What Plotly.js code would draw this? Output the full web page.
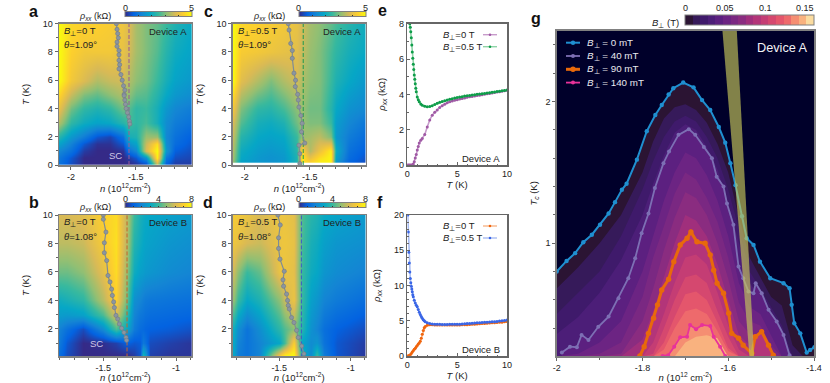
<!DOCTYPE html>
<html>
<head>
<meta charset="utf-8">
<script src="https://cdn.plot.ly/plotly-3.0.1.min.js"></script>
<style>html,body{margin:0;padding:0;background:#fff}#chart{width:830px;height:383px}</style>
</head>
<body>
<div id="chart"></div>
<script>
// map a (device A, 0 T)
const nA = [-2.09,-2,-1.9,-1.8,-1.7,-1.6,-1.55,-1.5,-1.42,-1.34,-1.27,-1.2,-1.07];
const tA = [0,0.5,1,1.5,2,3,4,5,6,8,10];
const zA = [
  [0.9,0.4,0,0,0,0,0,0.1,0.3,3.4,0.6,0.2,0.2],
  [1.0,0.5,0,0,0,0,0.2,0.5,1.5,4.8,1.0,0.4,0.3],
  [1.3,0.9,0.2,0,0,0.1,0.9,1.3,3.8,5.0,1.6,0.6,0.4],
  [1.8,1.2,0.5,0.1,0.1,0.5,1.5,1.8,3.6,4.6,1.4,0.8,0.5],
  [2.3,1.6,1.1,0.5,0.3,0.9,2.1,2.2,3.2,3.2,1.3,0.9,0.6],
  [3.4,2.4,2.0,1.8,1.9,2.3,2.6,2.4,2.6,2.1,1.4,1.1,0.9],
  [4.0,2.9,2.4,2.2,2.4,2.9,2.7,2.4,2.5,2.1,1.6,1.3,1.1],
  [4.5,3.6,3.0,2.8,3.1,3.4,3.1,2.8,2.7,2.3,1.9,1.6,1.4],
  [5,4.2,3.8,3.4,3.6,3.7,3.4,3.1,2.9,2.5,2.1,1.8,1.6],
  [5,4.4,4.2,4.2,4.2,4.0,3.7,3.3,3.0,2.7,2.3,2.0,1.8],
  [5,4.5,4.4,4.4,4.3,4.1,3.8,3.3,3.0,2.8,2.5,2.2,1.9]
];
// map b (device B, 0 T)
const nB = [-1.81,-1.75,-1.64,-1.5,-1.41,-1.34,-1.29,-1.25,-1.23,-1.21,-1.18,-1.05,-0.89];
const tB = [0.1,1,2,3,4,6,8,10];
const zB = [
  [1.4,0.6,0,0,0,0,0.3,0.8,3.6,3.0,0.4,0.2,0.2],
  [1.8,0.8,0,0.1,0.4,1.0,0.8,0.9,1.6,1.4,0.6,0.4,0.2],
  [2.0,1.4,0.6,2.2,4.2,3.0,1.7,1.3,1.2,1.1,1.0,0.9,0.7],
  [2.7,2.6,2.8,4.2,6.0,3.8,2.0,1.6,1.5,1.4,1.3,1.2,1.1],
  [3.2,3.4,3.8,5.5,7.0,4.5,2.3,2.0,1.8,1.7,1.6,1.5,1.4],
  [4.6,4.6,5.0,6.3,7.3,5.0,3.2,2.8,2.7,2.6,2.5,2.2,2.0],
  [5.6,5.6,5.8,6.8,7.4,5.4,3.6,3.2,3.0,2.9,2.8,2.5,2.3],
  [6.0,6.0,6.2,7.0,7.3,5.5,4.0,3.4,3.2,3.1,3.0,2.8,2.6]
];
// map c (device A, 0.5 T)
const nC = [-2.09,-2.03,-1.9,-1.8,-1.7,-1.6,-1.56,-1.5,-1.42,-1.34,-1.3,-1.2,-1.07];
const tC = [0.2,0.25,0.5,1,2,3,4,6,8,10];
const zC = [
  [3.2,1.8,1.6,1.5,1.6,2.2,4.6,4.4,4.8,4.9,1.6,0.7,0.4],
  [3.2,1.8,1.6,1.5,1.6,2.2,4.6,4.4,4.8,4.9,1.6,0.7,0.4],
  [3.3,1.9,1.6,1.5,1.6,2.2,4.8,4.0,4.6,4.9,1.8,0.8,0.45],
  [3.4,2.0,1.7,1.6,1.7,2.3,4.5,3.4,4.1,4.8,2.0,0.9,0.6],
  [3.6,2.3,1.9,1.8,1.9,2.5,3.2,3.3,3.5,3.0,1.6,1.1,0.8],
  [3.8,2.7,2.1,2.0,2.2,2.9,3.2,3.0,3.0,2.5,1.7,1.3,1.0],
  [4.2,3.0,2.4,2.3,2.6,3.1,3.2,2.9,2.9,2.3,1.9,1.5,1.3],
  [5,3.9,3.4,3.0,3.4,3.7,3.4,3.1,3,2.5,2.2,1.9,1.6],
  [5,4.3,4.2,4.1,4,3.9,3.6,3.2,3,2.6,2.4,2.1,1.9],
  [5,4.5,4.4,4.3,4.2,4.0,3.7,3.3,3.1,2.8,2.6,2.3,2]
];
// map d (device B, 0.5 T)
const nD = [-1.82,-1.79,-1.73,-1.635,-1.5,-1.46,-1.4,-1.34,-1.28,-1.24,-1.19,-1.1,-0.89];
const tD = [0.1,1,2,4,6,8,10];
const zD = [
  [3.0,1.8,1.5,2.0,7.0,7.9,8,3.5,2.2,4.0,1.8,0.8,0.2],
  [3.0,2.0,1.5,2.0,3.0,4.2,7.0,3.0,2.2,2.5,1.5,0.8,0.3],
  [3.2,2.3,1.5,2.3,3.8,4.3,5.0,3.7,2.4,2.0,1.4,1.0,0.6],
  [5.0,4.0,3.0,3.5,5.0,5.8,6.5,4.0,2.8,2.5,2.0,1.7,1.3],
  [5.8,5.0,4.0,4.5,6.5,6.5,6.3,4.0,3.2,3.0,2.5,2.2,1.9],
  [6.6,6.4,6.0,5.8,6.5,6.6,6.4,4.2,3.4,3.2,2.8,2.5,2.3],
  [6.8,6.7,6.5,6.0,6.5,6.5,6.3,4.3,3.7,3.5,3.1,2.9,2.6]
];
// grey peak positions on the maps
const peakNA = [-1.65,-1.645,-1.64,-1.635,-1.645,-1.645,-1.63,-1.63,-1.63,-1.625,-1.63,-1.615,-1.605,-1.595,-1.585,-1.59,-1.59,-1.585,-1.58,-1.575,-1.565,-1.555,-1.55,-1.546];
const peakTA = [10,9.6,9.3,9,8.7,8.4,8.1,7.8,7.4,7.1,6.8,6.4,6,5.6,5.3,5,4.9,4.6,4.3,4,3.7,3.4,3.1,2.9];
const peakNB = [-1.5,-1.5,-1.482,-1.493,-1.493,-1.477,-1.468,-1.454,-1.443,-1.438,-1.429,-1.424,-1.413,-1.401,-1.39,-1.374,-1.358,-1.344,-1.34];
const peakTB = [10,9.7,8.8,8.05,7.35,6.8,5.75,5.3,4.8,4.35,3.9,3.5,2.95,2.7,2.35,2.05,1.75,1.4,1.2];
const peakNC = [-1.665,-1.659,-1.646,-1.634,-1.634,-1.621,-1.609,-1.611,-1.593,-1.588,-1.583,-1.568,-1.558,-1.563,-1.538,-1.583,-1.576,-1.576];
const peakTC = [10,9.55,8.6,8.1,7.55,6.5,6,5.55,5,4.6,4.1,3.5,2.95,2.35,1.55,1.4,0.8,0.1];
const peakND = [-1.51,-1.493,-1.505,-1.505,-1.495,-1.465,-1.474,-1.47,-1.449,-1.442,-1.437,-1.43,-1.414,-1.397,-1.379,-1.367,-1.343,-1.327];
const peakTD = [10,9.3,8.4,7.65,6.9,6.05,5.45,5,4.45,4,3.65,3.4,2.8,2.45,1.9,1.4,0.8,0.25];
// dashed optimal density
const dashNA = [-1.553,-1.553];
const dashNB = [-1.337,-1.337];
const dashNC = [-1.55,-1.55];
const dashND = [-1.345,-1.345];
const dashT = [0,10];
// cuts e
const cutTE0 = [0,0.1,0.2,0.3,0.4,0.5,0.6,0.7,0.8,0.9,1,1.1,1.2,1.35,1.5,1.75,2,2.25,2.5,2.75,3,3.25,3.5,3.75,4,4.25,4.5,4.75,5,5.25,5.5,5.75,6,6.25,6.5,6.75,7,7.25,7.5,7.75,8,8.25,8.5,8.75,9,9.25,9.5,9.75,10];
const rhoE0 = [0,0,0,0,0,0,0.05,0.18,0.4,0.6,0.85,1.05,1.25,1.4,1.5,1.72,2.15,2.55,2.82,2.98,3.12,3.26,3.36,3.44,3.52,3.58,3.63,3.67,3.7,3.74,3.77,3.8,3.83,3.86,3.88,3.9,3.93,3.95,3.98,4,4.03,4.05,4.08,4.1,4.13,4.15,4.18,4.2,4.23];
const cutTE5 = [0.25,0.3,0.35,0.4,0.45,0.5,0.55,0.6,0.65,0.7,0.75,0.8,0.85,0.9,1,1.1,1.2,1.35,1.5,1.75,2,2.25,2.5,2.75,3,3.25,3.5,3.75,4,4.25,4.5,4.75,5,5.25,5.5,5.75,6,6.25,6.5,6.75,7,7.25,7.5,7.75,8,8.25,8.5,8.75,9,9.25,9.5,9.75,10];
const rhoE5 = [8,7.8,7.55,7.2,6.8,6.4,6.05,5.7,5.4,5.1,4.85,4.6,4.35,4.15,3.85,3.7,3.58,3.45,3.38,3.32,3.3,3.31,3.36,3.42,3.5,3.55,3.6,3.64,3.68,3.72,3.75,3.79,3.82,3.85,3.87,3.9,3.92,3.94,3.96,3.98,4,4.02,4.04,4.05,4.07,4.09,4.12,4.14,4.16,4.18,4.2,4.22,4.25];
// cuts f
const cutTF0 = [0,0.1,0.2,0.3,0.4,0.5,0.6,0.7,0.8,0.9,1,1.1,1.2,1.3,1.4,1.5,1.6,1.7,1.8,2,2.25,2.5,2.75,3,3.25,3.5,3.75,4,4.25,4.5,4.75,5,5.25,5.5,5.75,6,6.25,6.5,6.75,7,7.25,7.5,7.75,8,8.25,8.5,8.75,9,9.25,9.5,9.75,10];
const rhoF0 = [0,0.02,0.08,0.18,0.35,0.55,0.75,0.95,1.1,1.3,1.5,1.7,1.85,2.1,2.5,3.1,3.6,4,4.2,4.35,4.42,4.42,4.4,4.4,4.4,4.38,4.38,4.38,4.38,4.38,4.39,4.4,4.41,4.42,4.44,4.45,4.47,4.5,4.52,4.55,4.57,4.6,4.62,4.65,4.67,4.7,4.72,4.75,4.77,4.8,4.85,4.9];
const cutTF5 = [0.05,0.1,0.15,0.2,0.25,0.3,0.35,0.4,0.45,0.5,0.55,0.6,0.7,0.8,0.9,1,1.1,1.2,1.3,1.4,1.5,1.6,1.7,1.8,2,2.25,2.5,2.75,3,3.25,3.5,3.75,4,4.25,4.5,4.75,5,5.25,5.5,5.75,6,6.25,6.5,6.75,7,7.25,7.5,7.75,8,8.25,8.5,8.75,9,9.25,9.5,9.75,10];
const rhoF5 = [20,17.6,14.7,13.2,11.9,11,10.4,9.9,9.5,9.1,8.7,8.4,7.9,7.5,7.2,7,6.6,6.2,5.9,5.6,5.35,5.15,5,4.85,4.7,4.6,4.55,4.5,4.5,4.49,4.48,4.48,4.48,4.49,4.5,4.5,4.5,4.52,4.55,4.57,4.6,4.62,4.65,4.67,4.7,4.72,4.75,4.77,4.8,4.82,4.85,4.87,4.9,4.95,5,5.05,5.1];
// Tc lines in g
const nG0 = [-2,-1.977,-1.957,-1.938,-1.918,-1.899,-1.879,-1.864,-1.848,-1.837,-1.813,-1.79,-1.77,-1.755,-1.739,-1.728,-1.705,-1.681,-1.661,-1.642,-1.622,-1.607,-1.595,-1.583,-1.568,-1.557,-1.541,-1.526,-1.502,-1.471,-1.457,-1.452,-1.446,-1.432,-1.417,-1.409,-1.399];
const tcG0 = [0.8,0.875,0.93,1.007,1.06,1.13,1.21,1.29,1.377,1.42,1.59,1.79,1.905,1.976,2.05,2.094,2.134,2.1,2.01,1.94,1.82,1.71,1.565,1.41,1.19,1.035,0.988,0.87,0.753,0.718,0.682,0.565,0.435,0.364,0.228,0.247,0.266];
const nG40 = [-1.988,-1.969,-1.953,-1.942,-1.926,-1.903,-1.879,-1.856,-1.833,-1.817,-1.802,-1.786,-1.771,-1.751,-1.738,-1.716,-1.692,-1.677,-1.657,-1.638,-1.627,-1.611,-1.603,-1.588,-1.576,-1.565,-1.553,-1.541,-1.536,-1.522,-1.506,-1.487,-1.471,-1.457];
const tcG40 = [0.228,0.27,0.266,0.353,0.317,0.41,0.482,0.612,0.753,0.894,1.07,1.21,1.39,1.565,1.647,1.765,1.805,1.765,1.68,1.6,1.47,1.4,1.28,1.13,0.835,0.753,0.66,0.647,0.718,0.647,0.53,0.447,0.353,0.21];
const nG90 = [-1.806,-1.796,-1.786,-1.774,-1.765,-1.755,-1.739,-1.727,-1.712,-1.696,-1.687,-1.673,-1.654,-1.642,-1.634,-1.626,-1.611,-1.599,-1.592,-1.576,-1.565,-1.545,-1.537,-1.522,-1.506,-1.495];
const tcG90 = [0.204,0.27,0.364,0.47,0.565,0.67,0.746,0.87,0.988,1.035,1.08,1.01,1,0.918,0.81,0.717,0.647,0.506,0.364,0.33,0.28,0.223,0.34,0.376,0.28,0.21];
const nG140 = [-1.753,-1.74,-1.726,-1.712,-1.696,-1.689,-1.675,-1.661,-1.642,-1.634,-1.619,-1.607];
const tcG140 = [0.204,0.21,0.27,0.336,0.34,0.423,0.393,0.423,0.416,0.34,0.27,0.204];
// other contour levels in g, on one density grid
const nGrid = [-2,-1.95,-1.9,-1.85,-1.8,-1.775,-1.75,-1.725,-1.7,-1.675,-1.65,-1.625,-1.6,-1.575,-1.55,-1.525,-1.5,-1.475,-1.45,-1.425,-1.4];
const tc10 = [0.68,0.83,1,1.2,1.5,1.72,1.88,1.96,1.98,1.94,1.85,1.7,1.5,1.18,0.9,0.76,0.62,0.56,0.28,0.2,0.2];
const tc20 = [0.5,0.65,0.8,1.05,1.38,1.58,1.75,1.86,1.9,1.86,1.75,1.6,1.38,1.1,0.8,0.68,0.55,0.42,0.2,0.2,0.2];
const tc30 = [0.36,0.48,0.65,0.88,1.2,1.42,1.62,1.78,1.84,1.8,1.68,1.52,1.28,1,0.72,0.62,0.5,0.34,0.2,0.2,0.2];
const tc50 = [0.2,0.22,0.3,0.45,0.8,1.05,1.3,1.5,1.64,1.6,1.48,1.3,1.05,0.72,0.55,0.5,0.35,0.2,0.2,0.2,0.2];
const tc60 = [0.2,0.2,0.22,0.3,0.62,0.9,1.12,1.35,1.5,1.45,1.32,1.15,0.9,0.58,0.45,0.42,0.28,0.2,0.2,0.2,0.2];
const tc70 = [0.2,0.2,0.2,0.22,0.45,0.68,0.95,1.18,1.36,1.32,1.2,1,0.75,0.45,0.36,0.36,0.22,0.2,0.2,0.2,0.2];
const tc80 = [0.2,0.2,0.2,0.2,0.32,0.52,0.76,1,1.2,1.16,1.05,0.85,0.6,0.35,0.28,0.3,0.2,0.2,0.2,0.2,0.2];
const tc100 = [0.2,0.2,0.2,0.2,0.2,0.3,0.5,0.72,0.9,0.92,0.85,0.65,0.42,0.25,0.2,0.2,0.2,0.2,0.2,0.2,0.2];
const tc110 = [0.2,0.2,0.2,0.2,0.2,0.22,0.4,0.6,0.76,0.78,0.72,0.52,0.34,0.2,0.2,0.2,0.2,0.2,0.2,0.2,0.2];
const tc120 = [0.2,0.2,0.2,0.2,0.2,0.2,0.3,0.48,0.64,0.66,0.6,0.44,0.26,0.2,0.2,0.2,0.2,0.2,0.2,0.2,0.2];
const tc130 = [0.2,0.2,0.2,0.2,0.2,0.2,0.25,0.4,0.52,0.54,0.5,0.38,0.24,0.2,0.2,0.2,0.2,0.2,0.2,0.2,0.2];
const tc150 = [0.2,0.2,0.2,0.2,0.2,0.2,0.2,0.2,0.3,0.34,0.35,0.33,0.2,0.2,0.2,0.2,0.2,0.2,0.2,0.2,0.2];
const levelColors = ['#2b1433','#361a5a','#3f1a6b','#4c1e78','#5c2080','#6c2483','#7a2882','#8a2c80','#a02f7c','#b33579','#c43d74','#d5486f','#e4566c','#ee6a6c','#f58e72','#f9b27f'];
// the olive band across g
const bandN = [-1.6135,-1.58,-1.5397,-1.5505,-1.6135];
const bandT = [2.5,2.5,0.204,0.204,2.5];

const FONT = 'Liberation Sans, Arial, sans-serif';
const INK = '#222';
const parula = [[0,'#352a87'],[0.125,'#0363e1'],[0.25,'#1485d4'],[0.375,'#06a7c6'],[0.5,'#38b99e'],[0.625,'#92bf73'],[0.75,'#d9ba56'],[0.875,'#fcce2e'],[1,'#f9fb0e']];
const W = 830, H = 383;

const data = [], annotations = [], shapes = [];
const layout = {
  width: W, height: H,
  margin: { l: 0, r: 0, t: 0, b: 0, autoexpand: false },
  paper_bgcolor: '#fff', plot_bgcolor: '#fff',
  font: { family: FONT, size: 9, color: INK },
  showlegend: false
};

function axisBase(ticks) {
  return {
    showgrid: false, zeroline: false, mirror: true, linecolor: '#808080', linewidth: 1.5,
    ticks: ticks, ticklen: 3, tickwidth: 1, tickcolor: '#666',
    tickfont: { family: FONT, size: 9, color: INK }
  };
}
function addAxes(id, box, xOpt, yOpt, ticks) {
  const sfx = id === 1 ? '' : id;
  layout['xaxis' + sfx] = Object.assign(axisBase(ticks), {
    domain: [box.x0 / W, box.x1 / W], anchor: 'y' + sfx
  }, xOpt);
  layout['yaxis' + sfx] = Object.assign(axisBase(ticks), {
    domain: [1 - box.y1 / H, 1 - box.y0 / H], anchor: 'x' + sfx
  }, yOpt);
}
function note(text, x, y, size, opts) {
  annotations.push(Object.assign({
    text: text, xref: 'paper', yref: 'paper', x: x / W, y: 1 - y / H, showarrow: false,
    xanchor: 'center', yanchor: 'middle', font: { family: FONT, size: size, color: INK }
  }, opts || {}));
}

const N_TITLE = '<i>n</i> (10<sup>12</sup>cm<sup>-2</sup>)';
const rhoLabel = '<i>ρ<sub>xx</sub></i> (kΩ)';

function mapPanel(id, box, cfg) {
  const sfx = id === 1 ? '' : id;
  addAxes(id, box, {
    range: cfg.xr, tickmode: 'array', tickvals: cfg.xticks, ticktext: cfg.xtext,
    minor: { tickmode: 'linear', tick0: 0, dtick: 0.1, ticks: 'outside', ticklen: 2, tickcolor: '#666' },
    title: { text: N_TITLE, standoff: 0, font: { family: FONT, size: 9.5, color: INK } }
  }, {
    range: cfg.yr, tick0: 0, dtick: 2, tickmode: 'linear',
    minor: { tick0: 0, dtick: 1, ticks: 'outside', ticklen: 2, tickcolor: '#666' },
    title: { text: '<i>T</i> (K)', standoff: 11, font: { family: FONT, size: 9.5, color: INK } }
  }, 'outside');
  data.push({
    type: 'heatmap', x: cfg.n, y: cfg.t, z: cfg.z, xaxis: 'x' + sfx, yaxis: 'y' + sfx,
    zmin: 0, zmax: cfg.zmax, zsmooth: 'best', colorscale: parula, hoverinfo: 'skip',
    colorbar: {
      orientation: 'h', x: (box.x0 + 66) / W, xanchor: 'left', y: 1 - (box.y0 - 5) / H, yanchor: 'bottom',
      len: 66.7, lenmode: 'pixels', thickness: 4.7, thicknessmode: 'pixels', xpad: 0, ypad: 0,
      outlinecolor: '#808080', outlinewidth: 1, ticks: 'inside', ticklen: 1.5, tickcolor: '#333',
      tickmode: 'array', tickvals: cfg.cbVals, showticklabels: false
    }
  });
  // colour bar numbers sit above the bar
  cfg.cbLabels.forEach(v => {
    note(String(v), box.x0 + 66 + 66.7 * v / cfg.zmax, box.y0 - 16, 9);
  });
  data.push({
    type: 'scatter', mode: 'lines', x: cfg.dashN, y: dashT, xaxis: 'x' + sfx, yaxis: 'y' + sfx,
    line: { color: cfg.dashColor, width: 1, dash: '4px,2px' }, hoverinfo: 'skip'
  });
  data.push({
    type: 'scatter', mode: 'lines+markers', x: cfg.peakN, y: cfg.peakT, xaxis: 'x' + sfx, yaxis: 'y' + sfx,
    line: { color: '#7f8c96', width: 1.2 },
    marker: { color: '#8b95a0', size: 4.2, line: { color: '#6f7b88', width: 0.6 } }, hoverinfo: 'skip'
  });
  note(rhoLabel, box.x0 + 36, box.y0 - 7.5, 9);
  note('<i>B</i><sub>⊥</sub>=' + cfg.field, box.x0 + 3, box.y0 + 7.5, 9.5, { xanchor: 'left' });
  note('<i>θ</i>=' + cfg.twist, box.x0 + 3, box.y0 + 21, 9.5, { xanchor: 'left' });
  note(cfg.device, box.x1 - 3, box.y0 + 7.5, 9.5, { xanchor: 'right' });
}

const COL1 = { x0: 59, x1: 191.7 }, COL2 = { x0: 232.7, x1: 365.7 }, COL3 = { x0: 407.3, x1: 507 };
const ROW1 = { y0: 23.7, y1: 165 }, ROW2 = { y0: 215, y1: 356 };

mapPanel(1, Object.assign({}, COL1, ROW1), {
  xr: [-2.092, -1.07], xticks: [-2, -1.5], xtext: ['-2', '-1.5'], yr: [0, 10],
  n: nA, t: tA, z: zA, zmax: 5, cbVals: [0,1,2,3,4,5], cbLabels: [0, 5],
  dashN: dashNA, dashColor: '#9c5a94', peakN: peakNA, peakT: peakTA,
  field: '0 T', twist: '1.09°', device: 'Device A'
});
mapPanel(2, Object.assign({}, COL1, ROW2), {
  xr: [-1.805, -0.892], xticks: [-1.5, -1], xtext: ['-1.5', '-1'], yr: [0.1, 10],
  n: nB, t: tB, z: zB, zmax: 8, cbVals: [0,1,2,3,4,5,6,7,8], cbLabels: [0, 4, 8],
  dashN: dashNB, dashColor: '#c8642a', peakN: peakNB, peakT: peakTB,
  field: '0 T', twist: '1.08°', device: 'Device B'
});
mapPanel(3, Object.assign({}, COL2, ROW1), {
  xr: [-2.092, -1.07], xticks: [-2, -1.5], xtext: ['-2', '-1.5'], yr: [0, 10],
  n: nC, t: tC, z: zC, zmax: 5, cbVals: [0,1,2,3,4,5], cbLabels: [0, 5],
  dashN: dashNC, dashColor: '#1f9a50', peakN: peakNC, peakT: peakTC,
  field: '0.5 T', twist: '1.09°', device: 'Device A'
});
mapPanel(4, Object.assign({}, COL2, ROW2), {
  xr: [-1.826, -0.895], xticks: [-1.5, -1], xtext: ['-1.5', '-1'], yr: [0.1, 10],
  n: nD, t: tD, z: zD, zmax: 8, cbVals: [0,1,2,3,4,5,6,7,8], cbLabels: [0, 4, 8],
  dashN: dashND, dashColor: '#3f5cc8', peakN: peakND, peakT: peakTD,
  field: '0.5 T', twist: '1.08°', device: 'Device B'
});
note('SC', 115, 155, 9.5, { font: { family: FONT, size: 9.5, color: '#cfc8e8' } });
note('SC', 96.5, 343, 9.5, { font: { family: FONT, size: 9.5, color: '#cfc8e8' } });

function cutPanel(id, box, cfg) {
  const sfx = id;
  addAxes(id, box, {
    range: [0, 10], dtick: 5, tick0: 0, tickmode: 'linear',
    minor: { tick0: 0, dtick: 1, ticks: 'inside', ticklen: 1.5, tickcolor: '#666' },
    title: { text: '<i>T</i> (K)', standoff: 0, font: { family: FONT, size: 9.5, color: INK } }
  }, {
    range: cfg.yr, dtick: cfg.dy, tick0: 0, tickmode: 'linear',
    minor: { tick0: 0, dtick: cfg.dy / 2 > 1 ? 1 : cfg.dy / 2, ticks: 'inside', ticklen: 1.5, tickcolor: '#666' },
    title: { text: rhoLabel, standoff: cfg.titleGap, font: { family: FONT, size: 9.5, color: INK } }
  }, 'inside');
  layout['xaxis' + sfx].linecolor = '#666';
  layout['yaxis' + sfx].linecolor = '#666';
  cfg.curves.forEach(c => {
    data.push({
      type: 'scatter', mode: 'lines+markers', x: c.x, y: c.y, xaxis: 'x' + sfx, yaxis: 'y' + sfx,
      line: { color: c.light, width: 1.6 }, marker: { color: c.color, size: 3 }, hoverinfo: 'skip'
    });
  });
  cfg.curves.forEach((c, i) => {
    const y = box.y0 + 11 + i * 12;
    note('<i>B</i><sub>⊥</sub>=' + c.label, 441, y, 9.5, { xanchor: 'left' });
    shapes.push({ type: 'line', xref: 'paper', yref: 'paper', x0: 483 / W, x1: 497 / W, y0: 1 - y / H, y1: 1 - y / H, line: { color: c.light, width: 1.4 } });
    shapes.push({ type: 'circle', xref: 'paper', yref: 'paper', x0: 488.7 / W, x1: 491.3 / W, y0: 1 - (y - 1.3) / H, y1: 1 - (y + 1.3) / H, fillcolor: c.color, line: { width: 0 } });
  });
  note(cfg.device, box.x1 - 5, box.y1 - 7, 9.5, { xanchor: 'right' });
}
cutPanel(5, Object.assign({}, COL3, ROW1), {
  yr: [0, 8], dy: 2, device: 'Device A', titleGap: 11,
  curves: [
    { x: cutTE0, y: rhoE0, color: '#a05aa5', light: '#c79ccb', label: '0 T' },
    { x: cutTE5, y: rhoE5, color: '#0f9d4a', light: '#8fd4a8', label: '0.5 T' }
  ]
});
cutPanel(6, Object.assign({}, COL3, ROW2), {
  yr: [0, 20], dy: 5, device: 'Device B', titleGap: 11,
  curves: [
    { x: cutTF0, y: rhoF0, color: '#f0650e', light: '#f7b589', label: '0 T' },
    { x: cutTF5, y: rhoF5, color: '#3a66e6', light: '#a9bdf3', label: '0.5 T' }
  ]
});

// panel g
const BOX_G = { x0: 556.7, x1: 814, y0: 30.7, y1: 356 };
addAxes(7, BOX_G, {
  range: [-2, -1.4], tickmode: 'array', tickvals: [-2,-1.8,-1.6,-1.4], ticktext: ['-2','-1.8','-1.6','-1.4'],
  minor: { tickmode: 'linear', tick0: 0, dtick: 0.1, ticks: 'outside', ticklen: 2, tickcolor: '#666' },
  title: { text: '<i>n</i> (10<sup>12</sup> cm<sup>-2</sup>)', standoff: 3, font: { family: FONT, size: 9.5, color: INK } }
}, {
  range: [0.204, 2.5], tickmode: 'linear', tick0: 0, dtick: 1,
  minor: { tick0: 0, dtick: 0.2, ticks: 'outside', ticklen: 2, tickcolor: '#666' },
  title: { text: '<i>T<sub>c</sub></i> (K)', standoff: 6, font: { family: FONT, size: 9.5, color: INK } }
}, 'outside');

const fills = [
  [nG0, tcG0], [nGrid, tc10], [nGrid, tc20], [nGrid, tc30], [nG40, tcG40], [nGrid, tc50], [nGrid, tc60], [nGrid, tc70],
  [nGrid, tc80], [nG90, tcG90], [nGrid, tc100], [nGrid, tc110], [nGrid, tc120], [nGrid, tc130], [nG140, tcG140], [nGrid, tc150]
];
layout.shapes = shapes;
shapes.push({ type: 'rect', layer: 'below', xref: 'x7', yref: 'y7', x0: -2, x1: -1.4, y0: 0.204, y1: 2.5, fillcolor: '#00002a', line: { width: 0 } });
fills.forEach((f, i) => {
  data.push({
    type: 'scatter', mode: 'lines', x: f[0], y: f[1], xaxis: 'x7', yaxis: 'y7', fill: 'tozeroy',
    fillcolor: levelColors[i], line: { width: 0, color: levelColors[i] }, hoverinfo: 'skip'
  });
});
const tcLines = [
  { x: nG0, y: tcG0, color: '#1f8fd0', lw: 2, ms: 4.4, label: '0 mT' },
  { x: nG40, y: tcG40, color: '#7d6fb4', lw: 1.8, ms: 4, label: '40 mT' },
  { x: nG90, y: tcG90, color: '#e8690b', lw: 3, ms: 5.4, label: '90 mT' },
  { x: nG140, y: tcG140, color: '#e8329a', lw: 1.8, ms: 4, label: '140 mT' }
];
tcLines.forEach((l, i) => {
  data.push({
    type: 'scatter', mode: 'lines+markers', x: l.x, y: l.y, xaxis: 'x7', yaxis: 'y7',
    line: { color: l.color, width: l.lw }, marker: { color: l.color, size: l.ms }, hoverinfo: 'skip'
  });
  const y = 42.7 + i * 13.3;
  note('<i>B</i><sub>⊥</sub> = ' + l.label, 585, y, 9.8, { xanchor: 'left', font: { family: FONT, size: 9.8, color: '#e8e8ee' } });
  shapes.push({ type: 'line', xref: 'paper', yref: 'paper', x0: 566 / W, x1: 580 / W, y0: 1 - y / H, y1: 1 - y / H, line: { color: l.color, width: l.lw } });
  shapes.push({ type: 'circle', xref: 'paper', yref: 'paper', x0: (573 - l.ms / 2) / W, x1: (573 + l.ms / 2) / W, y0: 1 - (y - l.ms / 2) / H, y1: 1 - (y + l.ms / 2) / H, fillcolor: l.color, line: { width: 0 } });
});
data.push({
  type: 'scatter', mode: 'lines', x: bandN, y: bandT, xaxis: 'x7', yaxis: 'y7', fill: 'toself',
  fillcolor: 'rgba(200,200,90,0.65)', line: { width: 0 }, hoverinfo: 'skip'
});
// colour bar of g, stepped over the contour levels
const barColors = levelColors.concat(['#fbdca0']);
const stepScale = [];
barColors.forEach((c, i) => {
  stepScale.push([i / barColors.length, c]);
  stepScale.push([(i + 1) / barColors.length, c]);
});
const barVals = [0, 0.05, 0.1, 0.15];
const barMax = 0.161;
data.push({
  type: 'scatter', mode: 'markers', x: [-2], y: [0.1], xaxis: 'x7', yaxis: 'y7', hoverinfo: 'skip',
  marker: {
    color: [0], cmin: 0, cmax: barMax, colorscale: stepScale, size: 1, showscale: true,
    colorbar: {
      orientation: 'h', x: 685 / W, xanchor: 'left', y: 1 - 26 / H, yanchor: 'bottom',
      len: 129, lenmode: 'pixels', thickness: 10, thicknessmode: 'pixels', xpad: 0, ypad: 0,
      outlinecolor: '#808080', outlinewidth: 1, ticks: '', tickmode: 'array', tickvals: barVals, showticklabels: false
    }
  }
});
barVals.forEach(v => note(String(v), 685 + 129 * v / barMax, 8, 9));
note('<i>B</i><sub>⊥</sub> (T)', 665, 22.5, 9.5);
note('Device A', 782, 47.5, 12.7, { font: { family: FONT, size: 12.7, color: '#f2f2f6' } });

// panel letters
[['a', 33, 11], ['b', 34, 202], ['c', 208, 11], ['d', 208, 202], ['e', 382, 10], ['f', 380, 202], ['g', 536, 18]].forEach(p => {
  note('<b>' + p[0] + '</b>', p[1], p[2], 16, { font: { family: FONT, size: 16, color: '#111' } });
});

layout.annotations = annotations;
Plotly.newPlot('chart', data, layout, { displayModeBar: false, staticPlot: true });
</script>
</body>
</html>
